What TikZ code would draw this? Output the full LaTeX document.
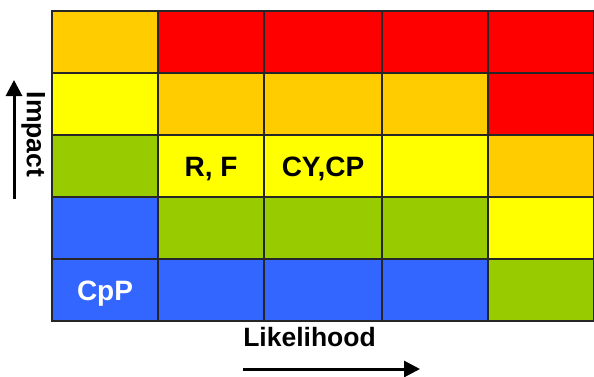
\documentclass[tikz,border=0pt]{standalone}
\usepackage{fontspec}
\setmainfont{Liberation Sans}
\usetikzlibrary{arrows.meta, positioning}

\definecolor{riskred}{HTML}{FF0000}
\definecolor{riskorange}{HTML}{FFCC00}
\definecolor{riskyellow}{HTML}{FFFF00}
\definecolor{riskgreen}{HTML}{99CC00}
\definecolor{riskblue}{HTML}{3366FF}

\begin{document}
\begin{tikzpicture}[
						x=1pt, y=-1pt,
						cell/.style = {draw=black!85, line width=1.2pt, rectangle, anchor=north west, inner sep=0pt, outer sep=0pt,
						               minimum height=62pt, text height=20pt, text depth=0pt,
						               font=\fontsize{28}{32}\selectfont\bfseries},
						narrow/.style = {cell, minimum width=106pt},
						wide/.style = {cell, minimum width=118pt},
						red/.style = {fill=riskred},
						orange/.style = {fill=riskorange},
						yellow/.style = {fill=riskyellow},
						green/.style = {fill=riskgreen},
						blue/.style = {fill=riskblue},
						axis/.style = {line width=3pt, -{Triangle[length=16pt, width=16pt]}},
						axislabel/.style = {inner sep=0pt, anchor=base, font=\fontsize{26.5}{30}\selectfont\bfseries}
					]
\useasboundingbox (0,0) rectangle (594,376);

% top row
\node[narrow, orange] (r1c1) at (52,11) {};
\node[narrow, red] (r1c2) at (158,11) {};
\node[wide, red] (r1c3) at (264,11) {};
\node[narrow, red] (r1c4) at (382,11) {};
\node[narrow, red] (r1c5) at (488,11) {};
% second row
\node[narrow, yellow] (r2c1) at (52,73) {};
\node[narrow, orange] (r2c2) at (158,73) {};
\node[wide, orange] (r2c3) at (264,73) {};
\node[narrow, orange] (r2c4) at (382,73) {};
\node[narrow, red] (r2c5) at (488,73) {};
% middle row
\node[narrow, green] (r3c1) at (52,135) {};
\node[narrow, yellow] (r3c2) at (158,135) {R, F};
\node[wide, yellow] (r3c3) at (264,135) {CY,CP};
\node[narrow, yellow] (r3c4) at (382,135) {};
\node[narrow, orange] (r3c5) at (488,135) {};
% fourth row
\node[narrow, blue] (r4c1) at (52,197) {};
\node[narrow, green] (r4c2) at (158,197) {};
\node[wide, green] (r4c3) at (264,197) {};
\node[narrow, green] (r4c4) at (382,197) {};
\node[narrow, yellow] (r4c5) at (488,197) {};
% bottom row
\node[narrow, blue, text=white] (r5c1) at (52,259) {CpP};
\node[narrow, blue] (r5c2) at (158,259) {};
\node[wide, blue] (r5c3) at (264,259) {};
\node[narrow, blue] (r5c4) at (382,259) {};
\node[narrow, green] (r5c5) at (488,259) {};

% axes
\node[axislabel, rotate=-90] (impact) at (27,134.5) {Impact};
\node[axislabel] (likelihood) at (309.5,346) {Likelihood};
\coordinate (impactfrom) at (14,199);
\coordinate (impactto) at (14,80);
\coordinate (likefrom) at (243,369);
\coordinate (liketo) at (420,369);
\draw[axis] (impactfrom) -- (impactto);
\draw[axis] (likefrom) -- (liketo);
\end{tikzpicture}
\end{document}
